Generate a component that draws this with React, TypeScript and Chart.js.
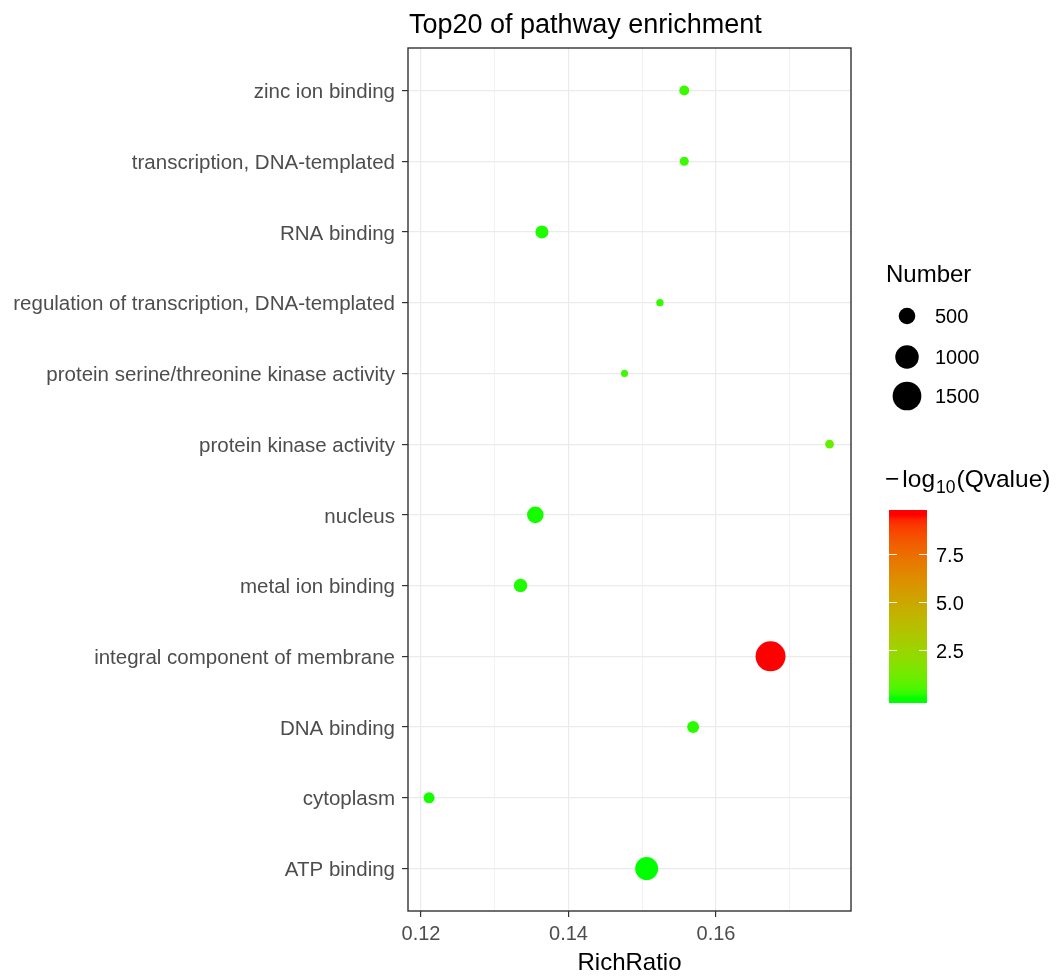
import React, { useEffect, useRef } from "react";
import { Chart, registerables } from "chart.js";

Chart.register(...registerables);

// ---------------- data ----------------
const categories = [
  "zinc ion binding",
  "transcription, DNA-templated",
  "RNA binding",
  "regulation of transcription, DNA-templated",
  "protein serine/threonine kinase activity",
  "protein kinase activity",
  "nucleus",
  "metal ion binding",
  "integral component of membrane",
  "DNA binding",
  "cytoplasm",
  "ATP binding",
];
const richRatio = [0.1557, 0.1557, 0.1364, 0.1524, 0.1476, 0.1754, 0.1355, 0.1335, 0.1674, 0.1569, 0.1211, 0.1506];
const geneNumber = [180, 150, 310, 100, 90, 140, 500, 330, 1630, 260, 220, 960];
const negLog10Q = [0.3, 0.3, 0.1, 0.25, 0.35, 0.9, 0.05, 0.1, 9.55, 0.15, 0.05, 0.0];
const xMajorTicks = [0.12, 0.14, 0.16];
const xMinorTicks = [0.13, 0.15, 0.17];
const sizeLegendValues = [500, 1000, 1500];
const colorLegendTicks = [7.5, 5.0, 2.5];

const FONT = '"Liberation Sans", Arial, sans-serif';

// ---------------- colour helpers (CIELAB interpolation like ggplot) ----------------
const WX = 0.95047, WY = 1.0, WZ = 1.08883;
function srgbToLin(c: number) { c /= 255; return c <= 0.04045 ? c / 12.92 : Math.pow((c + 0.055) / 1.055, 2.4); }
function linToSrgb(c: number) {
  const v = c <= 0.0031308 ? 12.92 * c : 1.055 * Math.pow(Math.max(c, 0), 1 / 2.4) - 0.055;
  return Math.round(Math.min(1, Math.max(0, v)) * 255);
}
function fLab(t: number) { return t > 0.008856 ? Math.cbrt(t) : 7.787 * t + 16 / 116; }
function fInv(t: number) { return t > 0.206893 ? t * t * t : (t - 16 / 116) / 7.787; }
function rgbToLab(rgb: number[]) {
  const R = srgbToLin(rgb[0]), G = srgbToLin(rgb[1]), B = srgbToLin(rgb[2]);
  const X = 0.4124 * R + 0.3576 * G + 0.1805 * B;
  const Y = 0.2126 * R + 0.7152 * G + 0.0722 * B;
  const Z = 0.0193 * R + 0.1192 * G + 0.9505 * B;
  const fx = fLab(X / WX), fy = fLab(Y / WY), fz = fLab(Z / WZ);
  return [116 * fy - 16, 500 * (fx - fy), 200 * (fy - fz)];
}
function labToRgb(lab: number[]) {
  const fy = (lab[0] + 16) / 116, fx = fy + lab[1] / 500, fz = fy - lab[2] / 200;
  const X = WX * fInv(fx), Y = WY * fInv(fy), Z = WZ * fInv(fz);
  const R = 3.2406 * X - 1.5372 * Y - 0.4986 * Z;
  const G = -0.9689 * X + 1.8758 * Y + 0.0415 * Z;
  const B = 0.0557 * X - 0.204 * Y + 1.057 * Z;
  return [linToSrgb(R), linToSrgb(G), linToSrgb(B)];
}
const LOW = rgbToLab([0, 255, 0]);
const HIGH = rgbToLab([255, 0, 0]);
const qMin = Math.min(...negLog10Q);
const qMax = Math.max(...negLog10Q);
function colorFor(v: number) {
  let t = (v - qMin) / (qMax - qMin);
  t = Math.min(1, Math.max(0, t));
  const lab = [0, 1, 2].map((k) => LOW[k] + (HIGH[k] - LOW[k]) * t);
  const c = labToRgb(lab);
  return `rgb(${c[0]},${c[1]},${c[2]})`;
}
function radiusFor(n: number) { return 0.371 * Math.sqrt(n); }

// ---------------- decoration plugin ----------------
const decorPlugin = {
  id: "decor",
  afterDraw(chart: any) {
    const ctx = chart.ctx as CanvasRenderingContext2D;
    const area = chart.chartArea;
    ctx.save();
    // panel border
    ctx.strokeStyle = "#333333";
    ctx.lineWidth = 1.4;
    ctx.strokeRect(area.left, area.top, area.right - area.left, area.bottom - area.top);

    // title
    ctx.fillStyle = "#000";
    ctx.textAlign = "left";
    ctx.textBaseline = "alphabetic";
    ctx.font = `27px ${FONT}`;
    ctx.fillText("Top20 of pathway enrichment", 409, 33);

    // size legend
    ctx.font = `24px ${FONT}`;
    ctx.fillText("Number", 886, 282);
    const rowY = [316, 357, 396];
    sizeLegendValues.forEach((v, i) => {
      ctx.beginPath();
      ctx.fillStyle = "#000";
      ctx.arc(907, rowY[i], radiusFor(v), 0, Math.PI * 2);
      ctx.fill();
      ctx.font = `20px ${FONT}`;
      ctx.fillText(String(v), 935, rowY[i] + 7);
    });

    // colour legend title: −log10(Qvalue)
    ctx.font = `24.5px ${FONT}`;
    let x = 885;
    const by = 487;
    ctx.fillText("\u2212", x, by);
    x += ctx.measureText("\u2212").width + 3;
    ctx.fillText("log", x, by);
    x += ctx.measureText("log").width + 1;
    ctx.font = `17.5px ${FONT}`;
    ctx.fillText("10", x, by + 6);
    x += ctx.measureText("10").width + 1;
    ctx.font = `24.5px ${FONT}`;
    ctx.fillText("(Qvalue)", x, by);

    // colour bar
    const barX = 889, barW = 38, barTop = 510, barH = 193;
    const ext = (qMax - qMin) / 19 / 2;
    const vTop = qMax + ext, vBot = qMin - ext;
    const yOf = (v: number) => barTop + ((vTop - v) / (vTop - vBot)) * barH;
    const grad = ctx.createLinearGradient(0, barTop + barH, 0, barTop);
    const N = 40;
    for (let i = 0; i <= N; i++) {
      const v = vBot + ((vTop - vBot) * i) / N;
      grad.addColorStop(i / N, colorFor(v));
    }
    ctx.fillStyle = grad;
    ctx.fillRect(barX, barTop, barW, barH);
    ctx.strokeStyle = "rgba(255,255,255,0.9)";
    ctx.lineWidth = 1;
    ctx.font = `20px ${FONT}`;
    colorLegendTicks.forEach((v) => {
      const y = Math.round(yOf(v)) + 0.5;
      ctx.beginPath();
      ctx.moveTo(barX, y);
      ctx.lineTo(barX + 8, y);
      ctx.moveTo(barX + barW - 8, y);
      ctx.lineTo(barX + barW, y);
      ctx.stroke();
      ctx.fillStyle = "#000";
      ctx.fillText(v.toFixed(1), 936, y + 7);
    });
    ctx.restore();
  },
};

export default function App() {
  const ref = useRef<HTMLCanvasElement | null>(null);
  useEffect(() => {
    if (!ref.current) return;
    const allX = [...xMajorTicks, ...xMinorTicks].sort((a, b) => a - b);
    const isMajor = (v: number) => xMajorTicks.some((m) => Math.abs(m - v) < 1e-9);
    const chart = new Chart(ref.current, {
      type: "scatter",
      data: {
        datasets: [
          {
            data: richRatio.map((r, i) => ({ x: r, y: i })),
            pointRadius: geneNumber.map((n) => radiusFor(n)),
            pointHoverRadius: geneNumber.map((n) => radiusFor(n)),
            pointBackgroundColor: negLog10Q.map((q) => colorFor(q)),
            pointBorderWidth: 0,
            pointBorderColor: "rgba(0,0,0,0)",
          } as any,
        ],
      },
      options: {
        animation: false,
        responsive: false,
        events: [],
        layout: { padding: { left: 0, right: 208, top: 48, bottom: 0 } },
        plugins: { legend: { display: false }, tooltip: { enabled: false }, title: { display: false } },
        scales: {
          x: {
            type: "linear",
            min: 0.11824,
            max: 0.17831,
            afterBuildTicks: (scale: any) => {
              scale.ticks = allX.map((v) => ({ value: v }));
            },
            afterFit: (scale: any) => {
              scale.height = 67;
            },
            ticks: {
              autoSkip: false,
              maxRotation: 0,
              padding: 5,
              color: "#4D4D4D",
              font: { family: FONT, size: 20 },
              callback: (v: any) => (isMajor(Number(v)) ? Number(v).toFixed(2) : ""),
            },
            grid: {
              color: "#EBEBEB",
              lineWidth: (c: any) => (c.tick && isMajor(c.tick.value) ? 1.2 : 0.7),
              tickLength: 6,
              tickColor: (c: any) => (c.tick && isMajor(c.tick.value) ? "#333333" : "rgba(0,0,0,0)"),
              tickWidth: 1.2,
            },
            border: { display: false },
            title: {
              display: true,
              text: "RichRatio",
              color: "#000",
              font: { family: FONT, size: 24 },
              padding: { top: 0, bottom: 0 },
            },
          },
          y: {
            type: "linear",
            min: -0.6,
            max: 11.6,
            reverse: true,
            afterBuildTicks: (scale: any) => {
              scale.ticks = categories.map((_, i) => ({ value: i }));
            },
            afterFit: (scale: any) => {
              scale.width = 408;
            },
            ticks: {
              autoSkip: false,
              padding: 7,
              labelOffset: 2,
              color: "#4D4D4D",
              font: { family: FONT, size: 20.5 },
              callback: (v: any) => categories[Number(v)] ?? "",
            },
            grid: {
              color: "#EBEBEB",
              lineWidth: 1.2,
              tickLength: 6,
              tickColor: "#333333",
              tickWidth: 1.2,
            },
            border: { display: false },
          },
        },
      } as any,
      plugins: [decorPlugin],
    });
    return () => chart.destroy();
  }, []);
  return (
    <div style={{ position: "fixed", left: 0, top: 0, width: 1059, height: 978, background: "#fff" }}>
      <canvas ref={ref} width={1059} height={978} style={{ display: "block", width: 1059, height: 978 }} />
    </div>
  );
}
